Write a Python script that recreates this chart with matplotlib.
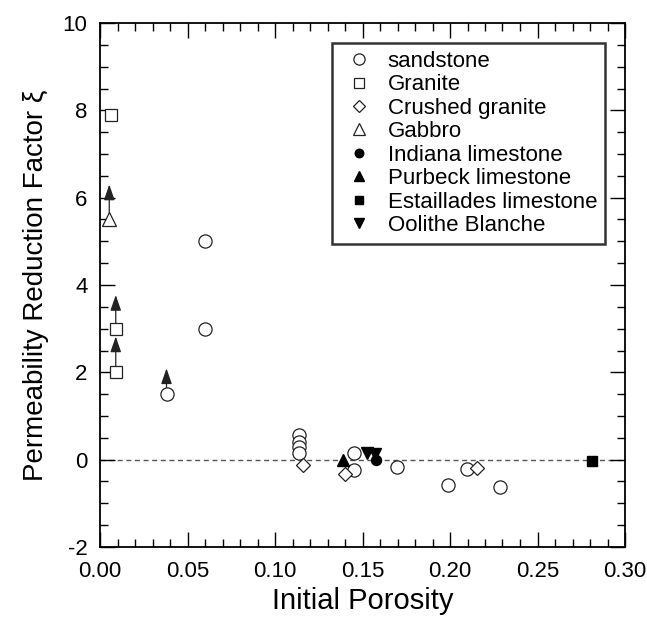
import matplotlib
matplotlib.use("Agg")
import matplotlib.pyplot as plt
from matplotlib.ticker import MultipleLocator

plt.rcParams['font.family'] = ['Liberation Sans', 'DejaVu Sans']
plt.rcParams['axes.unicode_minus'] = False

# ---- data ----
sand_x = [0.038, 0.060, 0.060, 0.1137, 0.1137, 0.1137, 0.1137, 0.145, 0.145, 0.1695, 0.199, 0.2095, 0.2286]
sand_y = [1.50, 5.00, 3.00, 0.57, 0.41, 0.28, 0.15, 0.15, -0.24, -0.16, -0.58, -0.22, -0.62]
granite_x = [0.006, 0.009, 0.009]
granite_y = [7.90, 3.00, 2.00]
crushed_x = [0.1162, 0.140, 0.2152]
crushed_y = [-0.12, -0.33, -0.20]
gabbro_x = [0.0053]
gabbro_y = [5.50]
indiana_x = [0.1577]
indiana_y = [0.00]
purbeck_x = [0.1386]
purbeck_y = [0.00]
estaillades_x = [0.281]
estaillades_y = [-0.04]
oolithe_x = [0.1527, 0.1570]
oolithe_y = [0.15, 0.13]

# arrows: lower bound values pointing up
arrow_x = [0.0053, 0.009, 0.009, 0.038]
arrow_y0 = [5.50, 3.00, 2.00, 1.50]
arrow_y1 = [6.30, 3.77, 2.82, 2.09]

xticks = [0.00, 0.05, 0.10, 0.15, 0.20, 0.25, 0.30]
xticklabels = ['0.00', '0.05', '0.10', '0.15', '0.20', '0.25', '0.30']
yticks = [-2, 0, 2, 4, 6, 8, 10]

fig = plt.figure(figsize=(6.47, 6.22), dpi=100)
ax = fig.add_axes([100/647, 1-547/622, 525/647, 524/622])

ax.axhline(0, color='#555555', lw=1.0, ls=(0, (3.6, 2.6)), zorder=1)

for x, y0, y1 in zip(arrow_x, arrow_y0, arrow_y1):
    ax.annotate('', xy=(x, y1), xytext=(x, y0),
                arrowprops=dict(arrowstyle='-|>,head_length=0.95,head_width=0.33',
                                color='#222222', lw=0.9, shrinkA=0, shrinkB=0,
                                mutation_scale=10),
                zorder=2)

ek = '#222222'
open_kw = dict(mfc='white', mec=ek, mew=0.9, ls='none', zorder=3)
fill_kw = dict(color='black', ls='none', zorder=4)

ax.plot(sand_x, sand_y, 'o', ms=9.5, label='sandstone', **open_kw)
ax.plot(granite_x, granite_y, 's', ms=8.7, label='Granite', **open_kw)
ax.plot(crushed_x, crushed_y, 'D', ms=6.8, label='Crushed granite', **open_kw)
ax.plot(gabbro_x, gabbro_y, '^', ms=9.5, label='Gabbro', **open_kw)
ax.plot(indiana_x, indiana_y, 'o', ms=7.2, label='Indiana limestone', **fill_kw)
ax.plot(purbeck_x, purbeck_y, '^', ms=8.0, label='Purbeck limestone', **fill_kw)
ax.plot(estaillades_x, estaillades_y, 's', ms=7.0, label='Estaillades limestone', **fill_kw)
ax.plot(oolithe_x, oolithe_y, 'v', ms=8.0, label='Oolithe Blanche', **fill_kw)

ax.set_xlim(0, 0.30)
ax.set_ylim(-2, 10)
ax.set_xticks(xticks)
ax.set_xticklabels(xticklabels)
ax.set_yticks(yticks)
ax.xaxis.set_minor_locator(MultipleLocator(0.01))
ax.yaxis.set_minor_locator(MultipleLocator(0.5))
ax.tick_params(which='both', direction='in', top=True, right=True, width=1.0, color='black')
ax.tick_params(which='major', length=10.5, labelsize=16)
ax.tick_params(axis='x', which='major', pad=10)
ax.tick_params(axis='y', which='major', pad=9)
ax.tick_params(which='minor', length=5.5)
for s in ax.spines.values():
    s.set_linewidth(1.3)

ax.set_xlabel('Initial Porosity', fontsize=21, labelpad=4)
ax.set_ylabel('Permeability Reduction Factor ξ', fontsize=20, labelpad=10)

leg = ax.legend(loc='upper right', bbox_to_anchor=(0.962, 0.962), borderaxespad=0,
                fontsize=16, frameon=True, fancybox=False, edgecolor='black',
                handlelength=1.7, handletextpad=0.45, labelspacing=0.11,
                borderpad=0.36, markerscale=0.85)
leg.get_frame().set_linewidth(1.8)

fig.savefig('out.png', dpi=100)
